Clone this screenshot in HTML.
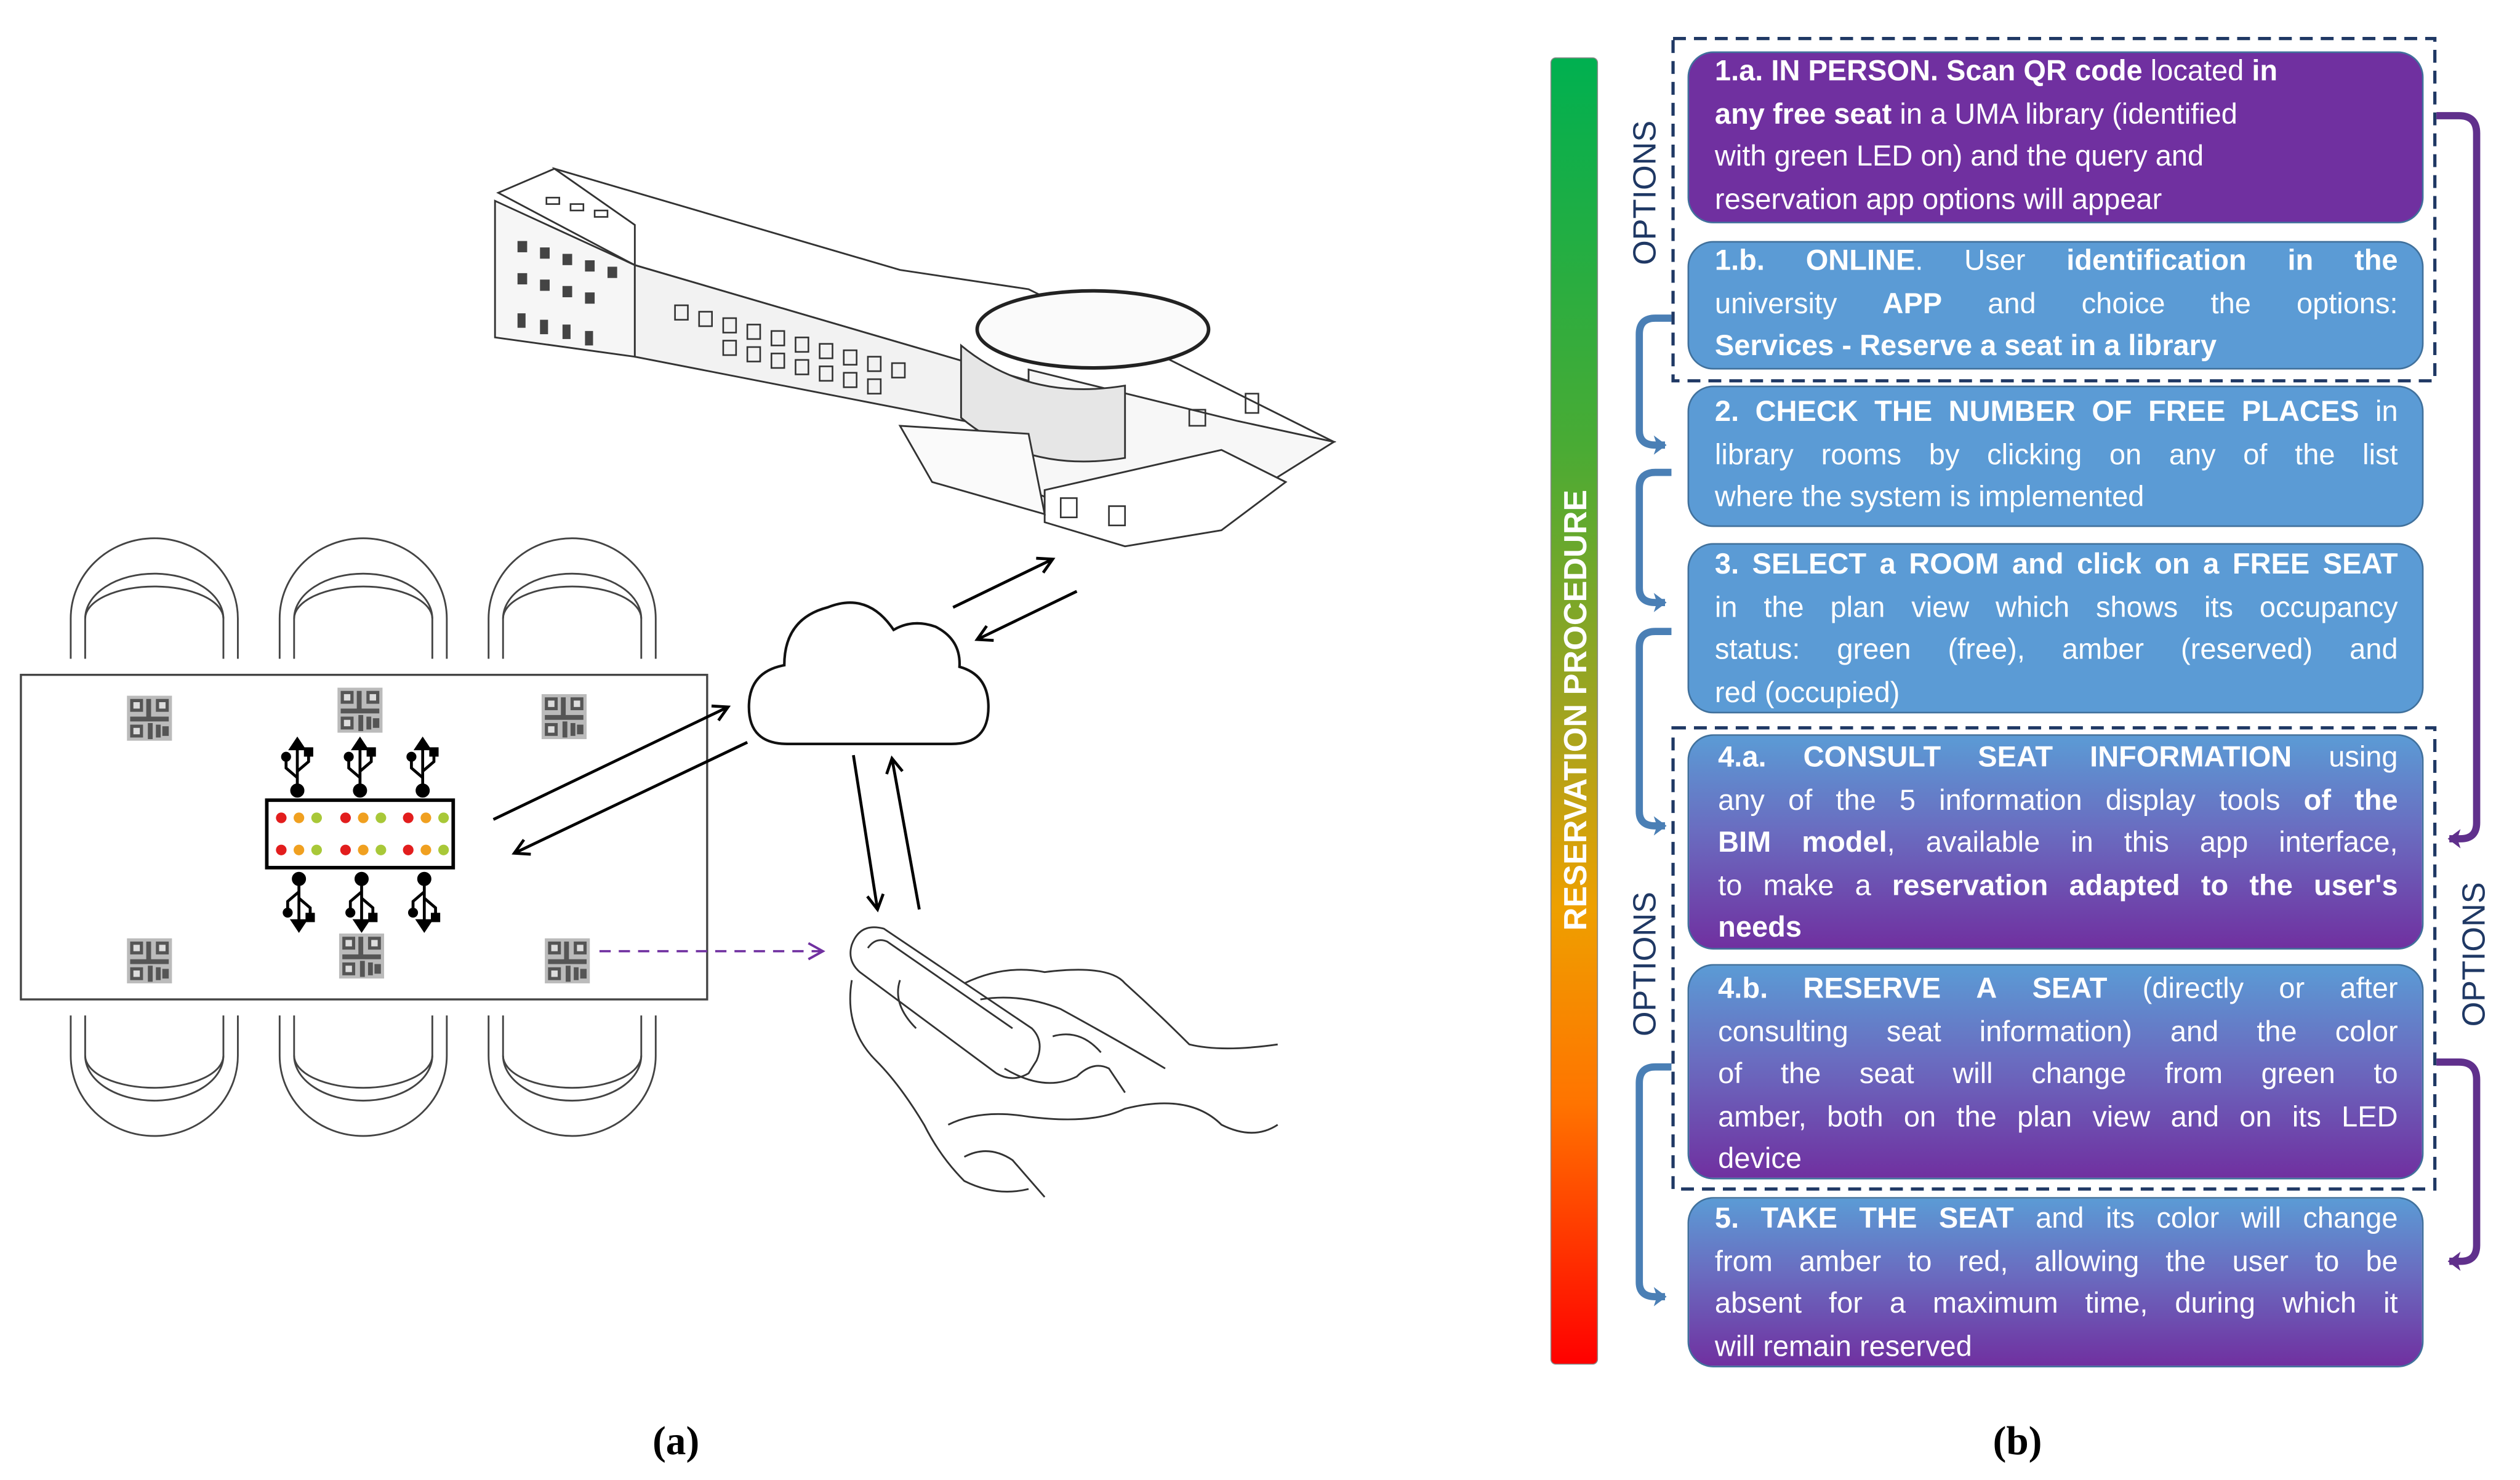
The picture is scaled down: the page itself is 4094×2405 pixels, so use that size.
<!DOCTYPE html>
<html><head><meta charset="utf-8">
<style>
html,body{margin:0;padding:0;background:#fff;}
body{width:4094px;height:2405px;overflow:hidden;position:relative;}
#s{position:absolute;left:0;top:0;width:1560px;height:916px;transform:scale(2.611,2.611);transform-origin:0 0;font-family:"Liberation Sans",sans-serif;}
.box{position:absolute;left:1050px;width:458px;border:1.3px solid #41719c;border-radius:16px;box-sizing:border-box;color:#fff;font-size:18px;line-height:26.5px;}
.box .t{position:absolute;left:16px;right:15px;}
.box .t div{white-space:nowrap;}
.box .t div.j{text-align:justify;text-align-last:justify;}
.pur{background:#7030a0;}
.blu{background:#5b9bd5;}
.grd{background:linear-gradient(#5b9bd5 0%,#6a6cc0 45%,#7030a0 100%);}
.lab{position:absolute;top:884px;font-family:"Liberation Serif",serif;font-weight:bold;font-size:25px;}
</style></head><body>
<div id="s">
<svg width="1560" height="916" style="position:absolute;left:0;top:0" xmlns="http://www.w3.org/2000/svg">
<defs>
<linearGradient id="bar" x1="0" y1="0" x2="0" y2="1">
<stop offset="0" stop-color="#00b050"/><stop offset="0.3" stop-color="#4aab34"/><stop offset="0.5" stop-color="#a0a420"/>
<stop offset="0.65" stop-color="#eea000"/><stop offset="0.8" stop-color="#ff7400"/><stop offset="1" stop-color="#ff0000"/>
</linearGradient>
<marker id="ah" markerWidth="12" markerHeight="12" refX="10" refY="6" orient="auto" markerUnits="userSpaceOnUse"><path d="M1,1 L10,6 L1,11" fill="none" stroke="#000" stroke-width="1.8"/></marker>
<marker id="ap" markerWidth="12" markerHeight="12" refX="10" refY="6" orient="auto" markerUnits="userSpaceOnUse"><path d="M1,1 L10,6 L1,11" fill="none" stroke="#7030a0" stroke-width="1.5"/></marker>
<marker id="ab" markerWidth="10" markerHeight="12" refX="7" refY="6" orient="auto" markerUnits="userSpaceOnUse"><path d="M0,0 L8,6 L0,12 L2,6z" fill="#4a7fb5"/></marker>
<marker id="av" markerWidth="10" markerHeight="12" refX="7" refY="6" orient="auto" markerUnits="userSpaceOnUse"><path d="M0,0 L8,6 L0,12 L2,6z" fill="#60308c"/></marker>
<g id="qr" fill="#555"><rect x="0" y="0" width="28" height="28" fill="#bbb"/><rect x="2" y="2" width="8" height="8"/><rect x="4" y="4" width="4" height="4" fill="#ddd"/><rect x="18" y="2" width="8" height="8"/><rect x="20" y="4" width="4" height="4" fill="#ddd"/><rect x="12" y="2" width="3" height="12"/><rect x="2" y="13" width="24" height="3"/><rect x="2" y="18" width="8" height="8"/><rect x="4" y="20" width="4" height="4" fill="#ddd"/><rect x="13" y="17" width="3" height="10"/><rect x="18" y="18" width="3" height="8"/><rect x="22" y="19" width="4" height="6"/></g>
<g id="usbu" stroke="#000" stroke-width="1.8" fill="none"><line x1="0" y1="0" x2="0" y2="30"/><path d="M-4,6 L0,0 L4,6z" fill="#000"/><path d="M0,24 L-7,18 L-7,12"/><path d="M0,20 L7,14 L7,9"/><circle cx="-7" cy="11" r="2.2" fill="#000"/><rect x="5" y="6" width="4" height="4" fill="#000"/><circle cx="0" cy="32" r="3.5" fill="#000"/></g>
<g id="chair" fill="none" stroke="#444" stroke-width="1.1"><path d="M-52,55 L-52,30 A52,50 0 0 1 52,30 L52,55"/><path d="M-43,55 L-43,30 A43,28 0 0 1 43,30 L43,55"/><path d="M-43,30 A43,20 0 0 1 43,30"/></g>
</defs>

<rect x="965" y="36" width="29" height="813" rx="3" fill="url(#bar)" stroke="#888" stroke-width="0.6"/>

<rect x="1041" y="24" width="474" height="213" fill="none" stroke="#1f3864" stroke-width="2" stroke-dasharray="8,5"/>
<rect x="1041" y="453" width="474" height="287" fill="none" stroke="#1f3864" stroke-width="2" stroke-dasharray="8,5"/>

<g fill="none" stroke="#4a7fb5" stroke-width="4.5">
<path d="M1040,198 L1030,198 Q1020,198 1020,208 L1020,268 Q1020,277 1030,277 L1036,277" marker-end="url(#ab)"/>
<path d="M1040,294 L1030,294 Q1020,294 1020,304 L1020,366 Q1020,375 1030,375 L1036,375" marker-end="url(#ab)"/>
<path d="M1040,393 L1030,393 Q1020,393 1020,403 L1020,505 Q1020,514 1030,514 L1036,514" marker-end="url(#ab)"/>
<path d="M1040,664 L1030,664 Q1020,664 1020,674 L1020,798 Q1020,807 1030,807 L1036,807" marker-end="url(#ab)"/>
</g>
<g fill="none" stroke="#60308c" stroke-width="4.5">
<path d="M1516,72 L1530,72 Q1541,72 1541,83 L1541,512 Q1541,522 1531,522 L1524,522" marker-end="url(#av)"/>
<path d="M1516,661 L1530,661 Q1541,661 1541,672 L1541,775 Q1541,785 1531,785 L1524,785" marker-end="url(#av)"/>
</g>

<use href="#chair" x="96" y="355"/><use href="#chair" x="226" y="355"/><use href="#chair" x="356" y="355"/>
<g transform="translate(0,1042) scale(1,-1)"><use href="#chair" x="96" y="355"/><use href="#chair" x="226" y="355"/><use href="#chair" x="356" y="355"/></g>
<rect x="13" y="420" width="427" height="202" fill="#fff" stroke="#444" stroke-width="1.3"/>
<use href="#qr" x="79" y="433"/><use href="#qr" x="210" y="428"/><use href="#qr" x="337" y="432"/>
<use href="#qr" x="79" y="584"/><use href="#qr" x="211" y="581"/><use href="#qr" x="339" y="584"/>
<rect x="166" y="498" width="116" height="42" fill="#fff" stroke="#000" stroke-width="2.2"/>
<g>
<circle cx="175" cy="509" r="3.3" fill="#e21d1d"/><circle cx="186" cy="509" r="3.3" fill="#f0a020"/><circle cx="197" cy="509" r="3.3" fill="#a8c838"/>
<circle cx="215" cy="509" r="3.3" fill="#e21d1d"/><circle cx="226" cy="509" r="3.3" fill="#f0a020"/><circle cx="237" cy="509" r="3.3" fill="#a8c838"/>
<circle cx="254" cy="509" r="3.3" fill="#e21d1d"/><circle cx="265" cy="509" r="3.3" fill="#f0a020"/><circle cx="276" cy="509" r="3.3" fill="#a8c838"/>
<circle cx="175" cy="529" r="3.3" fill="#e21d1d"/><circle cx="186" cy="529" r="3.3" fill="#f0a020"/><circle cx="197" cy="529" r="3.3" fill="#a8c838"/>
<circle cx="215" cy="529" r="3.3" fill="#e21d1d"/><circle cx="226" cy="529" r="3.3" fill="#f0a020"/><circle cx="237" cy="529" r="3.3" fill="#a8c838"/>
<circle cx="254" cy="529" r="3.3" fill="#e21d1d"/><circle cx="265" cy="529" r="3.3" fill="#f0a020"/><circle cx="276" cy="529" r="3.3" fill="#a8c838"/>
</g>
<use href="#usbu" x="185" y="460"/><use href="#usbu" x="224" y="460"/><use href="#usbu" x="263" y="460"/>
<g transform="translate(0,1040) scale(1,-1)"><use href="#usbu" x="186" y="461"/><use href="#usbu" x="225" y="461"/><use href="#usbu" x="264" y="461"/></g>

<g stroke="#000" stroke-width="1.8" fill="none">
<line x1="307" y1="510" x2="453" y2="440" marker-end="url(#ah)"/>
<line x1="465" y1="462" x2="320" y2="531" marker-end="url(#ah)"/>
<line x1="593" y1="378" x2="655" y2="348" marker-end="url(#ah)"/>
<line x1="670" y1="368" x2="608" y2="398" marker-end="url(#ah)"/>
<line x1="531" y1="470" x2="546" y2="566" marker-end="url(#ah)"/>
<line x1="572" y1="566" x2="555" y2="472" marker-end="url(#ah)"/>
</g>
<line x1="373" y1="592" x2="512" y2="592" stroke="#7030a0" stroke-width="1.4" stroke-dasharray="7,5" marker-end="url(#ap)"/>

<path d="M490,463 Q466,463 466,440 Q466,418 488,414 Q488,385 515,378 Q540,368 556,392 Q568,385 582,390 Q598,398 597,415 Q615,420 615,440 Q615,463 592,463 Z" fill="#fff" stroke="#111" stroke-width="1.6"/>

<g fill="#fff" stroke="#333" stroke-width="1.1">
<polygon points="345,105 560,168 640,180 830,275 800,285 600,225 395,165"/>
<polygon points="310,120 345,105 395,140 395,165"/>
<polygon points="308,125 395,165 395,222 308,210" fill="#f6f6f6"/>
<polygon points="395,165 600,225 600,262 395,222" fill="#f2f2f2"/>
<polygon points="640,230 770,262 830,275 790,300 700,330 640,305" fill="#f7f7f7"/>
<polygon points="650,305 760,280 800,300 760,330 700,340 650,325"/>
<ellipse cx="680" cy="205" rx="72" ry="24" fill="#fafafa" stroke="#222" stroke-width="2.2"/>
<path d="M598,215 L598,260 Q640,295 700,285 L700,240 Q640,250 598,215 Z" fill="#e6e6e6"/>
<polygon points="560,265 640,270 650,320 580,300" fill="#fafafa"/>
</g>
<g fill="#444">
<rect x="322" y="150" width="6" height="7"/><rect x="336" y="154" width="6" height="7"/><rect x="350" y="158" width="6" height="7"/><rect x="364" y="162" width="6" height="7"/><rect x="378" y="166" width="6" height="7"/>
<rect x="322" y="170" width="6" height="7"/><rect x="336" y="174" width="6" height="7"/><rect x="350" y="178" width="6" height="7"/><rect x="364" y="182" width="6" height="7"/>
<rect x="322" y="195" width="5" height="9"/><rect x="336" y="199" width="5" height="9"/><rect x="350" y="202" width="5" height="9"/><rect x="364" y="206" width="5" height="9"/>
</g>
<g fill="none" stroke="#333" stroke-width="1">
<rect x="420" y="190" width="8" height="9"/><rect x="435" y="194" width="8" height="9"/><rect x="450" y="198" width="8" height="9"/><rect x="465" y="202" width="8" height="9"/><rect x="480" y="206" width="8" height="9"/><rect x="495" y="210" width="8" height="9"/><rect x="510" y="214" width="8" height="9"/><rect x="525" y="218" width="8" height="9"/><rect x="540" y="222" width="8" height="9"/><rect x="555" y="226" width="8" height="9"/>
<rect x="450" y="212" width="8" height="9"/><rect x="465" y="216" width="8" height="9"/><rect x="480" y="220" width="8" height="9"/><rect x="495" y="224" width="8" height="9"/><rect x="510" y="228" width="8" height="9"/><rect x="525" y="232" width="8" height="9"/><rect x="540" y="236" width="8" height="9"/>
<rect x="340" y="123" width="8" height="4"/><rect x="355" y="127" width="8" height="4"/><rect x="370" y="131" width="8" height="4"/>
<rect x="660" y="310" width="10" height="12"/><rect x="690" y="315" width="10" height="12"/><rect x="740" y="255" width="10" height="10"/><rect x="775" y="245" width="8" height="12"/>
</g>

<g fill="none" stroke="#333" stroke-width="1.1">
<path d="M530,588 Q535,574 550,578 L642,640 Q650,648 645,660 L640,668 Q630,674 620,668 L535,605 Q527,598 530,588 Z" fill="#fff"/>
<path d="M540,590 Q545,583 552,586 L630,640"/>
<path d="M600,612 Q625,600 650,605 Q690,600 700,612 Q720,630 740,650 Q760,655 795,650"/>
<path d="M610,622 Q635,618 660,628 Q700,650 725,665"/>
<path d="M530,610 Q525,640 545,660 Q560,675 575,700 Q585,720 600,735 Q620,745 640,740"/>
<path d="M590,700 Q610,690 640,695 Q680,700 700,690 Q740,680 760,700 Q780,710 795,700"/>
<path d="M625,665 Q650,680 670,670 Q680,660 690,665 L700,680"/>
<path d="M600,720 Q615,712 630,722 L650,745"/>
<path d="M560,610 Q555,625 570,640"/>
<path d="M655,645 Q672,640 685,655"/>
</g>

<text transform="translate(1030,120) rotate(-90)" text-anchor="middle" font-family="Liberation Sans,sans-serif" font-size="20" fill="#1f3864">OPTIONS</text>
<text transform="translate(1030,600) rotate(-90)" text-anchor="middle" font-family="Liberation Sans,sans-serif" font-size="20" fill="#1f3864">OPTIONS</text>
<text transform="translate(1546,594) rotate(-90)" text-anchor="middle" font-family="Liberation Sans,sans-serif" font-size="20" fill="#1f3864">OPTIONS</text>
<text transform="translate(987,442) rotate(-90)" text-anchor="middle" font-family="Liberation Sans,sans-serif" font-weight="bold" font-size="20" fill="#fff">RESERVATION  PROCEDURE</text>
</svg>

<div class="box pur" style="top:32px;height:107px;"><div class="t" style="top:-2px;">
<div><b>1.a. IN PERSON. Scan QR code</b> located <b>in</b></div>
<div><b>any free seat</b> in a UMA library (identified</div>
<div>with green LED on) and the query and</div>
<div>reservation app options will appear</div></div></div>

<div class="box blu" style="top:150px;height:80px;"><div class="t" style="top:-2px;">
<div class="j"><b>1.b.</b> <b>ONLINE</b>. User <b>identification</b> <b>in</b> <b>the</b></div>
<div class="j">university <b>APP</b> and choice the options:</div>
<div><b>Services - Reserve a seat in a library</b></div></div></div>

<div class="box blu" style="top:240px;height:88px;"><div class="t" style="top:2px;">
<div class="j"><b>2. CHECK THE NUMBER OF FREE PLACES</b> in</div>
<div class="j">library rooms by clicking on any of the list</div>
<div>where the system is implemented</div></div></div>

<div class="box blu" style="top:338px;height:106px;"><div class="t" style="top:-1px;">
<div class="j"><b>3. SELECT a ROOM and click on a FREE SEAT</b></div>
<div class="j">in the plan view which shows its occupancy</div>
<div class="j">status: green (free), amber (reserved) and</div>
<div>red (occupied)</div></div></div>

<div class="box grd" style="top:457px;height:134px;"><div class="t" style="top:0px;left:18px;">
<div class="j"><b>4.a.</b> <b>CONSULT</b> <b>SEAT</b> <b>INFORMATION</b> using</div>
<div class="j">any of the 5 information display tools <b>of the</b></div>
<div class="j"><b>BIM model</b>, available in this app interface,</div>
<div class="j">to make a <b>reservation adapted to the user's</b></div>
<div><b>needs</b></div></div></div>

<div class="box grd" style="top:600px;height:134px;"><div class="t" style="top:1px;left:18px;">
<div class="j"><b>4.b.</b> <b>RESERVE</b> <b>A</b> <b>SEAT</b> (directly or after</div>
<div class="j">consulting seat information) and the color</div>
<div class="j">of the seat will change from green to</div>
<div class="j">amber, both on the plan view and on its LED</div>
<div>device</div></div></div>

<div class="box grd" style="top:745px;height:106px;"><div class="t" style="top:-1px;">
<div class="j"><b>5. TAKE THE SEAT</b> and its color will change</div>
<div class="j">from amber to red, allowing the user to be</div>
<div class="j">absent for a maximum time, during which it</div>
<div>will remain reserved</div></div></div>

<div class="lab" style="left:406px;">(a)</div>
<div class="lab" style="left:1240px;">(b)</div>
</div>
</body></html>
